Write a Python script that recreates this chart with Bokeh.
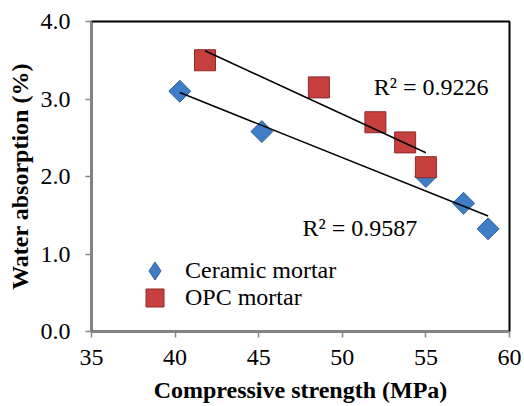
import numpy as np
from bokeh.plotting import figure
from bokeh.models import (Legend, LegendItem, FixedTicker, NumeralTickFormatter, Range1d,
                          ColumnDataSource)
from bokeh.core.properties import value
from bokeh.embed import file_html
from bokeh.resources import INLINE

# Data
ceramic_strength = [40.28, 45.19, 55.0, 57.25, 58.72]
ceramic_absorption = [3.10, 2.58, 2.00, 1.655, 1.325]
opc_strength = [41.79, 48.6, 51.98, 53.76, 55.0]
opc_absorption = [3.50, 3.15, 2.70, 2.44, 2.12]
ceramic_r2_label = "R² = 0.9587"
opc_r2_label = "R² = 0.9226"
x_ticks = [35, 40, 45, 50, 55, 60]
y_ticks = [0.0, 1.0, 2.0, 3.0, 4.0]

FONT = "Liberation Serif"
FS = "24px"
BLUE = "#3F7DC6"
BLUE_LINE = "#2D5F9E"
RED = "#C8403E"
RED_LINE = "#8E2A28"
GRAY = "#868686"

p = figure(width=522, height=406, output_backend="svg", toolbar_location=None,
           x_range=Range1d(35, 60), y_range=Range1d(0, 4),
           min_border_left=91, min_border_right=13, min_border_top=21, min_border_bottom=75)
p.grid.visible = False
p.background_fill_color = "white"
p.border_fill_color = "white"
p.outline_line_color = "black"
p.outline_line_width = 2

for ax in (p.xaxis[0], p.yaxis[0]):
    ax.axis_line_color = GRAY
    ax.axis_line_width = 1.5
    ax.major_tick_line_color = GRAY
    ax.major_tick_line_width = 1.5
    ax.major_tick_out = 6
    ax.major_tick_in = 0
    ax.minor_tick_line_color = None
    ax.major_label_text_font = FONT
    ax.major_label_text_font_size = FS
    ax.major_label_text_color = "black"
    ax.axis_label_text_font = FONT
    ax.axis_label_text_font_size = FS
    ax.axis_label_text_font_style = "bold"
    ax.axis_label_text_color = "black"

p.xaxis.ticker = FixedTicker(ticks=x_ticks)
p.yaxis.ticker = FixedTicker(ticks=y_ticks)
p.yaxis.formatter = NumeralTickFormatter(format="0.0")
p.xaxis.axis_label = "Compressive strength (MPa)"
p.yaxis.axis_label = "Water absorption (%)"
p.xaxis.major_label_standoff = 12
p.yaxis.major_label_standoff = 15
p.xaxis.axis_label_standoff = 9
p.yaxis.axis_label_standoff = 5

# Trendlines (least squares fits of each series)
def trend(xs, ys):
    k, b = np.polyfit(xs, ys, 1)
    xe = np.array([min(xs), max(xs)])
    return xe, k * xe + b

cx, cy = trend(ceramic_strength, ceramic_absorption)
ox, oy = trend(opc_strength, opc_absorption)

cer_src = ColumnDataSource(dict(x=ceramic_strength, y=ceramic_absorption))
opc_src = ColumnDataSource(dict(x=opc_strength, y=opc_absorption))

r_cer = p.scatter("x", "y", source=cer_src, marker="square", angle=np.pi / 4,
                  size=15.5, fill_color=BLUE, line_color=BLUE_LINE, line_width=1)
r_opc = p.scatter("x", "y", source=opc_src, marker="square",
                  size=21, fill_color=RED, line_color=RED_LINE, line_width=1)
p.line(cx, cy, line_color="black", line_width=1.5)
p.line(ox, oy, line_color="black", line_width=1.5)

# legend key for the diamonds (legend keys ignore marker angle); zero size in the plot itself
r_cer_key = p.scatter("x", "y", source=cer_src, marker="diamond", size=0,
                      fill_color=BLUE, line_color=BLUE_LINE, line_width=1)

p.text(x=[51.88], y=[3.15], text=[opc_r2_label], text_font=value(FONT),
       text_font_size=FS, text_baseline="middle", text_align="left", text_color="black")
p.text(x=[47.62], y=[1.333], text=[ceramic_r2_label], text_font=value(FONT),
       text_font_size=FS, text_baseline="middle", text_align="left", text_color="black")

def make_legend(label, renderer, glyph, loc, standoff):
    lg = Legend(items=[LegendItem(label=label, renderers=[renderer])],
                location=loc, glyph_width=glyph, glyph_height=glyph,
                label_standoff=standoff, padding=0, margin=0, spacing=0,
                border_line_color=None, background_fill_alpha=0,
                label_text_font=FONT, label_text_font_size=FS,
                label_text_color="black")
    p.add_layout(lg)

make_legend("Ceramic mortar", r_cer_key, 45, (41, 38), 8)
make_legend("OPC mortar", r_opc, 45, (41, 11), 8)

open("out.html", "w").write(file_html(p, INLINE))
